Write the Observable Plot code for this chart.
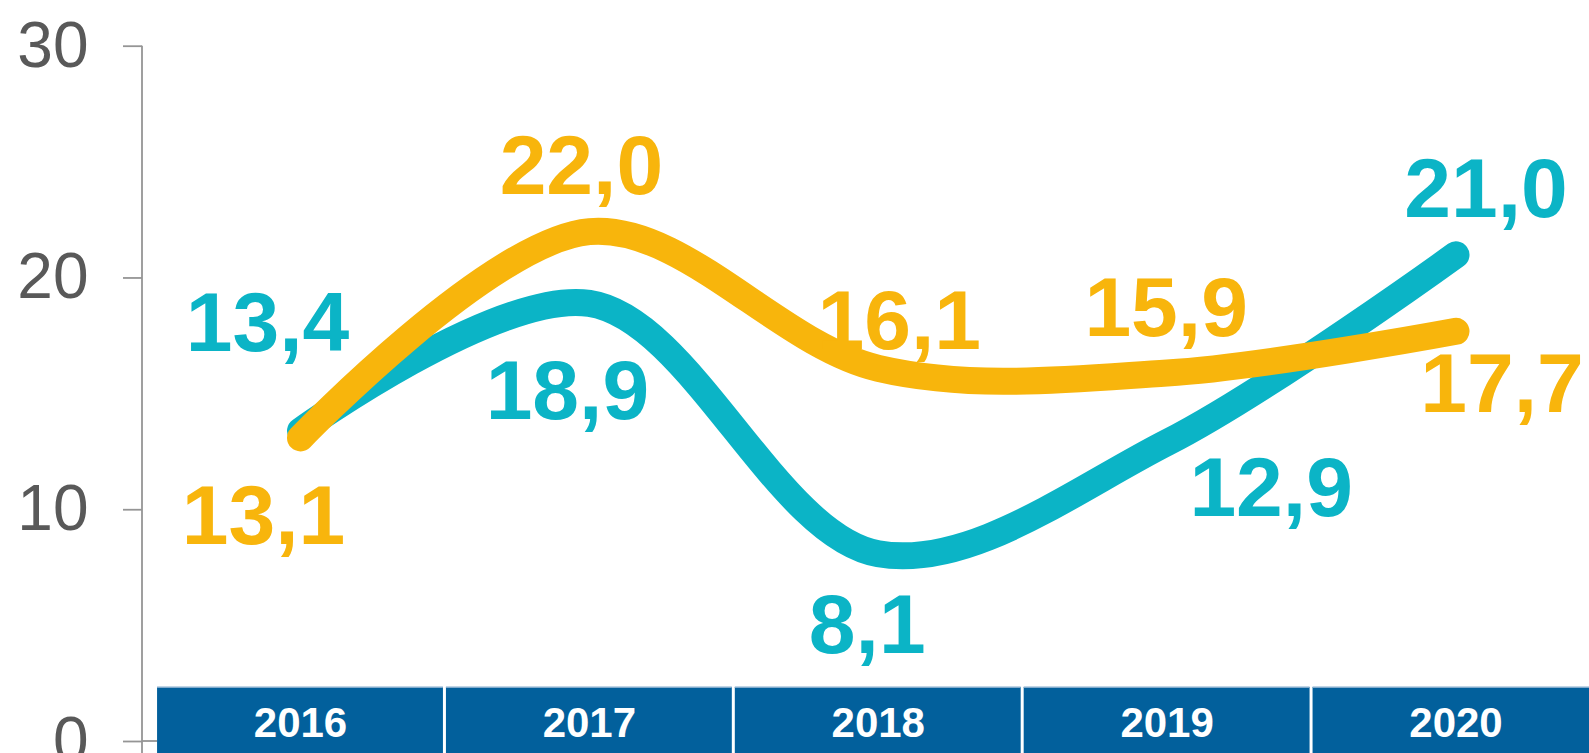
<!DOCTYPE html>
<html><head><meta charset="utf-8">
<script src="https://cdn.jsdelivr.net/npm/d3@7"></script>
<script src="https://cdn.jsdelivr.net/npm/@observablehq/plot@0.6"></script>
<style>body{margin:0;background:#fff;overflow:hidden;}</style>
</head><body><div id="chart"></div>
<script>
// ---- data ----
const years = [2016, 2017, 2018, 2019, 2020];
const tealValues = [13.4, 18.9, 8.1, 12.9, 21.0];
const orangeValues = [13.1, 22.0, 16.1, 15.9, 17.7];
const yTicks = [0, 10, 20, 30];

// ---- label layout (pixel offsets, styling only) ----
const tealLabelDx = [-33, -22, -11, 104, 30];
const tealLabelDy = [-80, 116, 99, 73, -38];
const orangeLabelDx = [-37, -8, 21, -1, 46];
const orangeLabelDy = [106, -38, -19, -37, 81];

const teal = "#0bb4c6", orange = "#f8b50c", bandBlue = "#02609c", bandEdge = "#82abcd", axisGray = "#959595";
const fmt = v => v.toFixed(1).replace(".", ",");

const tealData = years.map((year, i) => ({year, value: tealValues[i]}));
const orangeData = years.map((year, i) => ({year, value: orangeValues[i]}));

function labelMarks(data, dxs, dys, color) {
  return data.map((d, i) => Plot.text([d], {
    x: "year", y: "value", text: r => fmt(r.value),
    dx: dxs[i], dy: dys[i], lineAnchor: "bottom", textAnchor: "middle",
    fill: color, fontSize: 84, fontWeight: "bold"
  }));
}

function axisLine(index, scales, values, dimensions) {
  const g = d3.create("svg:g");
  const x0 = dimensions.marginLeft;
  g.append("line").attr("x1", x0).attr("x2", x0)
    .attr("y1", scales.y(30)).attr("y2", dimensions.height)
    .attr("stroke", axisGray).attr("stroke-width", 1.8);
  g.append("line").attr("x1", x0).attr("x2", x0 + 15)
    .attr("y1", scales.y(0)).attr("y2", scales.y(0))
    .attr("stroke", axisGray).attr("stroke-width", 1.8);
  return g.node();
}

const chart = Plot.plot({
  width: 1589,
  height: 753,
  marginLeft: 142,
  marginRight: 0,
  marginTop: 46,
  marginBottom: 12,
  style: {fontFamily: "'Liberation Sans', Arial, sans-serif", background: "#fff", overflow: "visible"},
  x: {domain: [2016, 2020], range: [300, 1455.5], axis: null},
  y: {domain: [0, 30], range: [741, 45.7], axis: null},
  marks: [
    Plot.rect(years, {
      x1: d => d - 0.5, x2: d => d + 0.5, fill: bandBlue,
      insetLeft: 1.5, insetRight: 1.5, insetTop: 641, insetBottom: -12
    }),
    Plot.rect(years, {
      x1: d => d - 0.5, x2: d => d + 0.5, fill: bandEdge,
      insetLeft: 1.5, insetRight: 1.5, insetTop: 640.5, insetBottom: 53
    }),
    Plot.text(years, {
      x: d => d, text: d => String(d), frameAnchor: "bottom", lineAnchor: "bottom",
      dy: -4.3, fill: "#fff", fontSize: 42, fontWeight: "bold"
    }),
    Plot.axisY({ticks: yTicks, tickSize: 19, tickPadding: 35, fontSize: 64,
      stroke: axisGray, strokeWidth: 1.8, fill: "#595959", label: null, tickFormat: d => String(d)}),
    axisLine,
    Plot.line(tealData, {x: "year", y: "value", stroke: teal, strokeWidth: 27, curve: "catmull-rom"}),
    Plot.line(orangeData, {x: "year", y: "value", stroke: orange, strokeWidth: 27, curve: "catmull-rom"}),
    ...labelMarks(tealData, tealLabelDx, tealLabelDy, teal),
    ...labelMarks(orangeData, orangeLabelDx, orangeLabelDy, orange)
  ]
});
document.getElementById("chart").appendChild(chart);
</script>
</body></html>
